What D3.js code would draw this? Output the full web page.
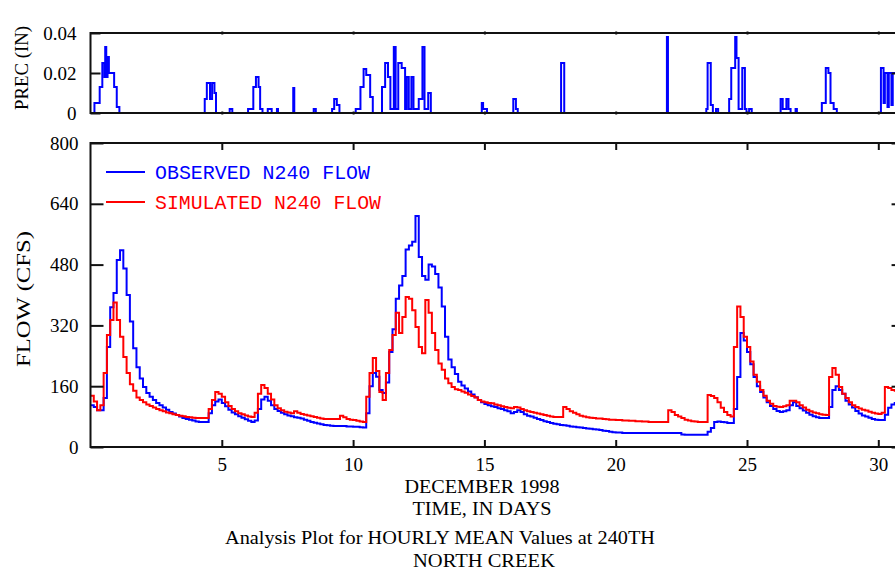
<!DOCTYPE html>
<html>
<head>
<meta charset="utf-8">
<script src="https://cdn.jsdelivr.net/npm/d3@7"></script>
<style>
  body { margin: 0; background: #fff; }
  svg { display: block; }
  .label { font-family: "Liberation Serif", "DejaVu Serif", serif; font-size: 19px; fill: #000; }
  .legend { font-family: "Courier New", "Liberation Mono", monospace; font-size: 20px; }
</style>
</head>
<body>
<svg width="895" height="572"></svg>
<script>
// hourly mean flows read every 3 hours (one row per day), December 1998
const step = 0.125;

const observed = [
  110, 105, 97, 97, 129, 263, 368, 405,
  492, 518, 470, 400, 330, 260, 210, 180,
  158, 142, 132, 124, 116, 110, 104, 98,
  92, 88, 84, 80, 76, 74, 72, 70,
  67, 66, 66, 66, 89, 110, 120, 125,
  116, 107, 98, 91, 86, 81, 77, 73,
  69, 66, 70, 100, 125, 132, 122, 110,
  100, 95, 90, 86, 83, 81, 78, 77,
  75, 72, 69, 66, 64, 62, 60, 58,
  57, 56, 55, 55, 55, 55, 54, 54,
  53, 53, 52, 51, 89, 160, 195, 185,
  150, 142, 170, 250, 310, 390, 425, 450,
  520, 530, 540, 608, 500, 450, 440, 480,
  475, 455, 420, 370, 290, 230, 210, 192,
  172, 162, 154, 146, 138, 131, 124, 118,
  113, 110, 107, 105, 102, 100, 97, 94,
  89, 92, 97, 92, 86, 82, 80, 77,
  74, 71, 68, 66, 63, 61, 60, 58,
  57, 56, 54, 53, 52, 51, 50, 49,
  48, 47, 46, 45, 43, 42, 40, 39,
  38, 38, 37, 37, 37, 37, 37, 37,
  37, 37, 37, 37, 37, 37, 37, 37,
  37, 37, 37, 37, 33, 32, 32, 32,
  32, 32, 32, 32, 40, 50, 66, 67,
  66, 65, 63, 63, 100, 184, 300, 280,
  250, 218, 184, 160, 145, 130, 118, 108,
  100, 95, 92, 94, 97, 110, 118, 108,
  102, 96, 90, 85, 81, 78, 76, 76,
  76, 105, 150, 160, 150, 140, 122, 112,
  104, 95, 88, 83, 80, 77, 74, 72,
  71, 71, 85, 103, 112, 116, 116, 116
];

const simulated = [
  135, 120, 97, 110, 195, 295, 334, 380,
  334, 290, 237, 195, 165, 148, 130, 124,
  118, 112, 108, 104, 100, 97, 94, 91,
  89, 86, 84, 82, 81, 79, 78, 77,
  76, 76, 76, 76, 100, 124, 145, 140,
  132, 118, 108, 100, 94, 89, 86, 83,
  80, 79, 90, 140, 163, 155, 140, 125,
  110, 102, 97, 93, 91, 89, 94, 90,
  87, 85, 83, 81, 79, 77, 75, 74,
  74, 74, 74, 74, 82, 78, 74, 72,
  71, 69, 67, 66, 132, 195, 234, 200,
  145, 124, 195, 255, 295, 353, 300, 342,
  395, 390, 360, 316, 263, 247, 387, 353,
  300, 255, 220, 203, 180, 168, 158, 152,
  150, 146, 143, 138, 134, 130, 124, 120,
  118, 116, 115, 112, 110, 107, 105, 103,
  102, 105, 104, 100, 97, 94, 92, 90,
  88, 86, 84, 82, 80, 79, 79, 79,
  105, 100, 94, 90, 86, 82, 80, 78,
  77, 76, 75, 75, 74, 73, 72, 72,
  71, 71, 70, 70, 69, 69, 68, 68,
  67, 67, 66, 66, 66, 66, 66, 66,
  97, 92, 84, 80, 76, 72, 70, 68,
  67, 66, 66, 66, 137, 134, 129, 118,
  103, 92, 84, 80, 263, 370, 342, 290,
  263, 225, 190, 172, 150, 135, 122, 114,
  108, 106, 105, 107, 110, 122, 122, 118,
  110, 104, 98, 94, 91, 89, 86, 85,
  84, 184, 208, 190, 158, 140, 129, 118,
  110, 105, 101, 98, 96, 93, 90, 88,
  87, 90, 158, 155, 150, 148, 146, 145
];

// precipitation breakpoints: value holds from that day until the next one
const precipDays = [
  0, 0.15, 0.35, 0.45, 0.53, 0.56, 0.6, 0.65, 0.7, 0.9, 1.0, 1.1,
  4.35, 4.43, 4.55, 4.63, 4.72, 4.78,
  5.3, 5.4,
  6.0, 6.2, 6.3, 6.4, 6.46, 6.55,
  6.75, 6.9,
  7.1, 7.14,
  7.72, 7.76,
  8.5, 8.58,
  9.2, 9.28, 9.38, 9.48,
  10.1, 10.28, 10.4, 10.5, 10.65, 10.75,
  11.1, 11.22, 11.33, 11.42, 11.55, 11.62, 11.72, 11.85, 11.98, 12.04, 12.12, 12.22, 12.3, 12.5, 12.64, 12.72, 12.86, 12.96,
  14.9, 14.95, 15.1,
  16.1, 16.2, 16.27,
  17.92, 18.04,
  21.95, 21.99,
  23.45, 23.5, 23.62, 23.7, 23.82, 23.9,
  24.32, 24.4, 24.55, 24.6, 24.68, 24.82, 24.92, 24.98, 25.08, 25.18,
  26.28, 26.36, 26.5, 26.58, 26.66, 26.85, 26.9,
  27.85, 28.0, 28.1, 28.18, 28.3, 28.42,
  30.1, 30.2, 30.25, 30.35, 30.4, 30.5, 30.55, 31
];
const precipValues = [
  0, 0.005, 0.013, 0.025, 0.018, 0.033, 0.018, 0.028, 0.02, 0.013, 0.003, 0,
  0.007, 0.015, 0.007, 0.015, 0.01, 0,
  0.002, 0,
  0.002, 0.013, 0.018, 0.013, 0.002, 0,
  0.002, 0,
  0.002, 0,
  0.0125, 0,
  0.002, 0,
  0.002, 0.007, 0.004, 0,
  0.002, 0.013, 0.022, 0.019, 0.008, 0,
  0.013, 0.025, 0.018, 0.002, 0.033, 0.002, 0.025, 0.0225, 0.002, 0.018, 0.002, 0.018, 0.002, 0.007, 0.033, 0.002, 0.01, 0,
  0.005, 0.002, 0,
  0.007, 0.002, 0,
  0.025, 0,
  0.038, 0,
  0.002, 0.025, 0.004, 0, 0.002, 0,
  0.007, 0.0225, 0.038, 0.0275, 0.002, 0.0225, 0.002, 0, 0.002, 0,
  0.007, 0.002, 0.007, 0.002, 0, 0.002, 0,
  0.005, 0.0225, 0.02, 0.005, 0.002, 0,
  0.0225, 0.005, 0.02, 0.003, 0.02, 0.004, 0.02, 0.02
];

const flowTicks = [0, 160, 320, 480, 640, 800];
const precipTicks = [0, 0.02, 0.04];
const dayTicks = [5, 10, 15, 20, 25, 30];

const svg = d3.select("svg");

const x = d3.scaleLinear().domain([0, 31]).range([90.5, 90.5 + 31 * 26.26]);
const yFlow = d3.scaleLinear().domain([0, 800]).range([447, 143]);
const yPrec = d3.scaleLinear().domain([0, 0.04]).range([113, 33]);

const toSeries = (arr) => {
  const pts = arr.map((v, i) => ({ t: i * step, v: v }));
  pts.push({ t: 31, v: arr[arr.length - 1] });
  return pts;
};

// axis groups: serif labels, no domain path
const styleAxis = (g) => {
  g.attr("font-family", "'Liberation Serif', 'DejaVu Serif', serif").attr("font-size", 19);
  g.select(".domain").remove();
  g.selectAll(".tick text").attr("fill", "#000");
  g.selectAll(".tick line").attr("stroke", "#111").attr("stroke-width", 2);
};

svg.append("defs").append("clipPath").attr("id", "clipMain")
  .append("rect").attr("x", x(0)).attr("y", yFlow(800)).attr("width", x(31) - x(0)).attr("height", yFlow(0) - yFlow(800));
svg.select("defs").append("clipPath").attr("id", "clipPrec")
  .append("rect").attr("x", x(0)).attr("y", yPrec(0.04) - 2).attr("width", x(31) - x(0)).attr("height", yPrec(0) - yPrec(0.04) + 2);

// ---- precipitation panel
const precLine = d3.line()
  .x(d => x(d.t))
  .y(d => yPrec(d.v))
  .curve(d3.curveStepAfter);

svg.append("path")
  .datum(precipDays.map((t, i) => ({ t: t, v: precipValues[i] })))
  .attr("clip-path", "url(#clipPrec)")
  .attr("d", precLine)
  .attr("fill", "none")
  .attr("stroke", "#0000ff")
  .attr("stroke-width", 2);

svg.append("g")
  .attr("transform", `translate(${x(0)},0)`)
  .call(d3.axisLeft(yPrec).tickValues(precipTicks).tickSize(-10).tickSizeOuter(0).tickPadding(14)
    .tickFormat(d => d === 0 ? "0" : d3.format(".2f")(d)))
  .call(styleAxis);

svg.append("g")
  .attr("transform", `translate(${x(31)},0)`)
  .call(d3.axisRight(yPrec).tickValues([0.02]).tickSize(-13).tickFormat(""))
  .call(styleAxis);

[yPrec(0.04), yPrec(0)].forEach(yy => {
  svg.append("g")
    .attr("transform", `translate(0,${yy - 1.5})`)
    .call(d3.axisBottom(x).tickValues(dayTicks).tickSize(3).tickFormat(""))
    .call(styleAxis);
});

svg.append("rect")
  .attr("x", x(0)).attr("y", yPrec(0.04))
  .attr("width", x(31) - x(0)).attr("height", yPrec(0) - yPrec(0.04))
  .attr("fill", "none").attr("stroke", "#111").attr("stroke-width", 2);

// ---- flow panel
const flowLine = d3.line()
  .x(d => x(d.t))
  .y(d => yFlow(d.v))
  .curve(d3.curveStepAfter);

svg.append("path")
  .datum(toSeries(observed))
  .attr("clip-path", "url(#clipMain)")
  .attr("d", flowLine)
  .attr("fill", "none")
  .attr("stroke", "#0000ff")
  .attr("stroke-width", 2);

svg.append("path")
  .datum(toSeries(simulated))
  .attr("clip-path", "url(#clipMain)")
  .attr("d", flowLine)
  .attr("fill", "none")
  .attr("stroke", "#ff0000")
  .attr("stroke-width", 2);

svg.append("g")
  .attr("transform", `translate(${x(0)},0)`)
  .call(d3.axisLeft(yFlow).tickValues(flowTicks).tickSize(-13).tickSizeOuter(0).tickPadding(12))
  .call(styleAxis);

svg.append("g")
  .attr("transform", `translate(${x(31)},0)`)
  .call(d3.axisRight(yFlow).tickValues(flowTicks).tickSize(-13).tickFormat(""))
  .call(styleAxis);

svg.append("g")
  .attr("transform", `translate(0,${yFlow(800)})`)
  .call(d3.axisTop(x).tickValues(dayTicks).tickSize(-7).tickFormat(""))
  .call(styleAxis);

svg.append("g")
  .attr("transform", `translate(0,${yFlow(0)})`)
  .call(d3.axisBottom(x).tickValues(dayTicks).tickSize(-7).tickPadding(11))
  .call(styleAxis);

svg.append("rect")
  .attr("x", x(0)).attr("y", yFlow(800))
  .attr("width", x(31) - x(0)).attr("height", yFlow(0) - yFlow(800))
  .attr("fill", "none").attr("stroke", "#111").attr("stroke-width", 2);

// ---- legend
const legend = [
  { name: "OBSERVED N240 FLOW", color: "#0000ff", len: 215 },
  { name: "SIMULATED N240 FLOW", color: "#ff0000", len: 226 }
];
const lg = svg.append("g");
legend.forEach((d, i) => {
  lg.append("line")
    .attr("x1", 106).attr("x2", 145)
    .attr("y1", 172 + i * 30).attr("y2", 172 + i * 30)
    .attr("stroke", d.color).attr("stroke-width", 2);
  lg.append("text")
    .attr("class", "legend")
    .attr("x", 155).attr("y", 179 + i * 30)
    .attr("fill", d.color)
    .attr("textLength", d.len).attr("lengthAdjust", "spacingAndGlyphs")
    .text(d.name);
});

// ---- axis titles and caption
svg.append("text").attr("class", "label")
  .attr("transform", "translate(28,68) rotate(-90)")
  .attr("text-anchor", "middle")
  .attr("textLength", 84).attr("lengthAdjust", "spacingAndGlyphs")
  .text("PREC (IN)");

svg.append("text").attr("class", "label")
  .attr("transform", "translate(30,299) rotate(-90)")
  .attr("text-anchor", "middle")
  .attr("textLength", 136).attr("lengthAdjust", "spacingAndGlyphs")
  .text("FLOW (CFS)");

const captions = [
  { text: "DECEMBER 1998", x: 482, y: 493, len: 155 },
  { text: "TIME, IN DAYS", x: 482, y: 515, len: 139 },
  { text: "Analysis Plot for HOURLY MEAN Values at 240TH", x: 440, y: 544, len: 430 },
  { text: "NORTH CREEK", x: 484, y: 567, len: 142 }
];
svg.selectAll("text.caption")
  .data(captions)
  .enter()
  .append("text")
  .attr("class", "label caption")
  .attr("x", d => d.x)
  .attr("y", d => d.y)
  .attr("text-anchor", "middle")
  .attr("textLength", d => d.len)
  .attr("lengthAdjust", "spacingAndGlyphs")
  .text(d => d.text);
</script>
</body>
</html>
